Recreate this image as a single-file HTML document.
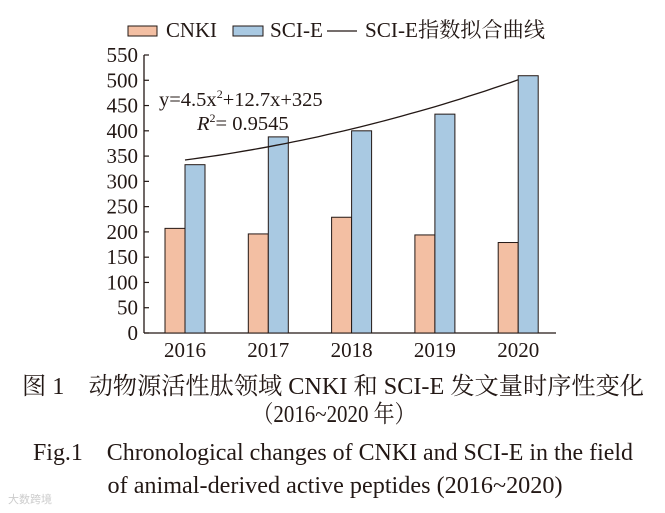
<!DOCTYPE html>
<html><head><meta charset="utf-8"><style>
html,body{margin:0;padding:0;background:#fff;}
svg{display:block;font-family:"Liberation Serif","Noto Serif CJK SC",serif;}
</style></head><body>
<svg id="chart" width="665" height="513" viewBox="0 0 665 513">
<g id="legend" font-size="21" fill="#231815">
 <g><rect x="128" y="26" width="29" height="10" fill="#f3bfa3" stroke="#231815" stroke-width="1"/><text x="166" y="37" textLength="51" lengthAdjust="spacingAndGlyphs">CNKI</text></g>
 <g><rect x="233" y="26" width="30" height="10" fill="#a9c9e2" stroke="#231815" stroke-width="1"/><text x="270" y="37" textLength="53" lengthAdjust="spacingAndGlyphs">SCI-E</text></g>
 <g><line x1="327" y1="31" x2="357" y2="31" stroke="#231815" stroke-width="1.2"/><text x="365" y="37" textLength="180" lengthAdjust="spacingAndGlyphs">SCI-E指数拟合曲线</text></g>
</g>
<g id="axes"></g>
<g id="bars"></g>
<path id="fit" fill="none" stroke="#231815" stroke-width="1.3"/>
<text x="159" y="106" font-size="20.5" fill="#231815">y=4.5x<tspan font-size="12" dy="-8">2</tspan><tspan dy="8">+12.7x+325</tspan></text>
<text x="197" y="130" font-size="20.5" fill="#231815"><tspan font-style="italic">R</tspan><tspan font-size="12" dy="-8">2</tspan><tspan dy="8">= 0.9545</tspan></text>
<g font-size="24" fill="#231815" text-anchor="middle">
<text x="333" y="394" textLength="622" lengthAdjust="spacingAndGlyphs">图 1　动物源活性肽领域 CNKI 和 SCI-E 发文量时序性变化</text>
<text x="334" y="422" textLength="163" lengthAdjust="spacingAndGlyphs">（2016~2020 年）</text>
<text x="333" y="460" textLength="600" lengthAdjust="spacingAndGlyphs">Fig.1　Chronological changes of CNKI and SCI-E in the field</text>
<text x="335" y="493" textLength="455" lengthAdjust="spacingAndGlyphs">of animal-derived active peptides (2016~2020)</text>
</g>
<text x="8" y="503" font-size="11" fill="#ccc" font-family="Liberation Sans, Noto Sans CJK SC, sans-serif">大数跨境</text>
</svg>
<script>
const categories=["2016","2017","2018","2019","2020"];
const cnkiValues=[207,196,229,194,179];
const scieValues=[333,388,400,433,509];
const fitCoef=[4.5,12.7,325];
const yTicks=[0,50,100,150,200,250,300,350,400,450,500,550];
const NS="http://www.w3.org/2000/svg";
const x0=144,y0=333,yTop=55,xEnd=556,gap=83.3,firstC=185,bw=20;
const yS=v=>y0-(v/550)*(y0-yTop);
const xC=i=>firstC+i*gap;
function mk(t,a,p){const e=document.createElementNS(NS,t);for(const k in a)e.setAttribute(k,a[k]);p.appendChild(e);return e;}
const ax=document.getElementById('axes');
let l=mk('line',{x1:x0,y1:yTop,x2:x0,y2:y0,stroke:'#231815','stroke-width':1.3},ax);


l=mk('line',{x1:x0,y1:y0,x2:xEnd,y2:y0,stroke:'#231815','stroke-width':1.3},ax);


yTicks.forEach(v=>{
 const y=yS(v);
 const tk=mk('line',{x1:x0,y1:y,x2:x0+5,y2:y,stroke:'#231815','stroke-width':1.2},ax);
 
 
 const t=mk('text',{x:x0-6,y:y+7,'text-anchor':'end','font-size':21,fill:'#231815'},ax);
 t.textContent=v;
 
 
});
const bg=document.getElementById('bars');
categories.forEach((c,i)=>{
 const cx=xC(i);
 let r=mk('rect',{x:cx-bw,y:yS(cnkiValues[i]),width:bw,height:y0-yS(cnkiValues[i]),fill:'#f3bfa3',stroke:'#231815','stroke-width':1},bg);
 
 
 r=mk('rect',{x:cx,y:yS(scieValues[i]),width:bw,height:y0-yS(scieValues[i]),fill:'#a9c9e2',stroke:'#231815','stroke-width':1},bg);
 
 
 const t=mk('text',{x:cx,y:y0+24,'text-anchor':'middle','font-size':21,fill:'#231815'},ax);
 t.textContent=c;
 
 
});
let d='';
for(let s=0;s<=40;s++){const u=s/40*(categories.length-1);const v=fitCoef[0]*(u+1)**2+fitCoef[1]*(u+1)+fitCoef[2];d+=(s?'L':'M')+xC(u).toFixed(1)+','+yS(v).toFixed(1);}
document.getElementById('fit').setAttribute('d',d);
</script>
</body></html>
